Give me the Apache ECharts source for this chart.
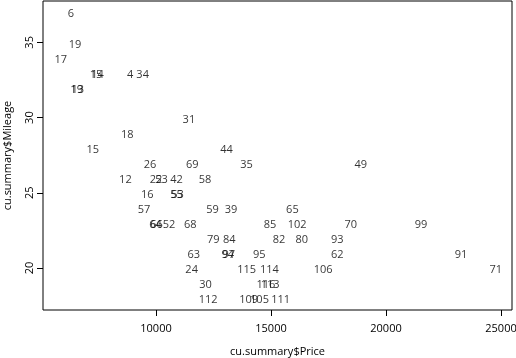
<!DOCTYPE html>
<html>
<head>
<meta charset="utf-8">
<script src="https://cdn.jsdelivr.net/npm/echarts@6/dist/echarts.min.js"></script>
<style>html,body{margin:0;padding:0;background:#fff}#c{width:516px;height:358px}</style>
</head>
<body>
<div id="c"></div>
<script>
const labels = ["6","19","17","15","14","4","34","19","13","31","18","15","44","26","69","35","49","12","22","53","42","58","16","55","53","57","59","39","65","64","66","52","68","85","102","70","99","79","84","82","80","93","63","94","97","95","62","91","24","115","114","106","71","30","116","113","112","109","105","111"];
const prices = [6300,6480,5860,7390,7460,8880,9420,6550,6600,11430,8750,7250,13070,9740,11580,13940,18900,8670,10000,10240,10890,12130,9620,10890,10940,9480,12460,13260,15930,9980,10020,10570,11490,14960,16140,18470,21520,12490,13190,15350,16340,17880,11640,13120,13160,14490,17880,23260,11550,13940,14930,17270,24770,12150,14780,14960,12270,14030,14500,15420];
const mileages = [37,35,34,33,33,33,33,32,32,30,29,28,28,27,27,27,27,26,26,26,26,26,25,25,25,24,24,24,24,23,23,23,23,23,23,23,23,22,22,22,22,22,21,21,21,21,21,21,20,20,20,20,20,19,19,19,18,18,18,18];
const xTicks = [10000,15000,20000,25000];
const yTicks = [20,25,30,35];
const xName = "cu.summary$Price";
const yName = "cu.summary$Mileage";

const data = prices.map((p,i)=>[p, mileages[i], labels[i]]);
const FONT = "Open Sans";
const FS = 11;
const chart = echarts.init(document.getElementById('c'), null, {renderer:'canvas'});
chart.setOption({
  animation:false,
  backgroundColor:'#fff',
  grid:{left:43,right:4,top:1,bottom:48,containLabel:false,outerBoundsMode:'none',show:true,borderColor:'#000',borderWidth:1,backgroundColor:'transparent'},
  xAxis:{
    type:'value', min:5087, max:25478,
    axisLine:{show:false},
    splitLine:{show:false},
    axisTick:{show:true,length:6,lineStyle:{color:'#000'},customValues:xTicks},
    axisLabel:{color:'#000',fontFamily:FONT,fontSize:FS,margin:13,customValues:xTicks,formatter:v=>String(v)},
    name:xName, nameLocation:'middle', nameGap:36,
    nameTextStyle:{color:'#000',fontFamily:FONT,fontSize:FS}
  },
  yAxis:{
    type:'value', min:17.21, max:37.75,
    axisLine:{show:false},
    splitLine:{show:false},
    axisTick:{show:true,length:6,lineStyle:{color:'#000'},customValues:yTicks},
    axisLabel:{color:'#000',fontFamily:FONT,fontSize:FS,margin:8,rotate:90,customValues:yTicks,formatter:v=>String(v)},
    name:yName, nameLocation:'middle', nameGap:30,
    nameTextStyle:{color:'#000',fontFamily:FONT,fontSize:FS}
  },
  series:[{
    type:'scatter',
    symbolSize:0,
    data:data,
    label:{show:true,position:'inside',offset:[0,2],color:'#000',fontFamily:FONT,fontSize:FS,formatter:p=>p.value[2]},
    emphasis:{disabled:true}
  }]
});
</script>
</body>
</html>
